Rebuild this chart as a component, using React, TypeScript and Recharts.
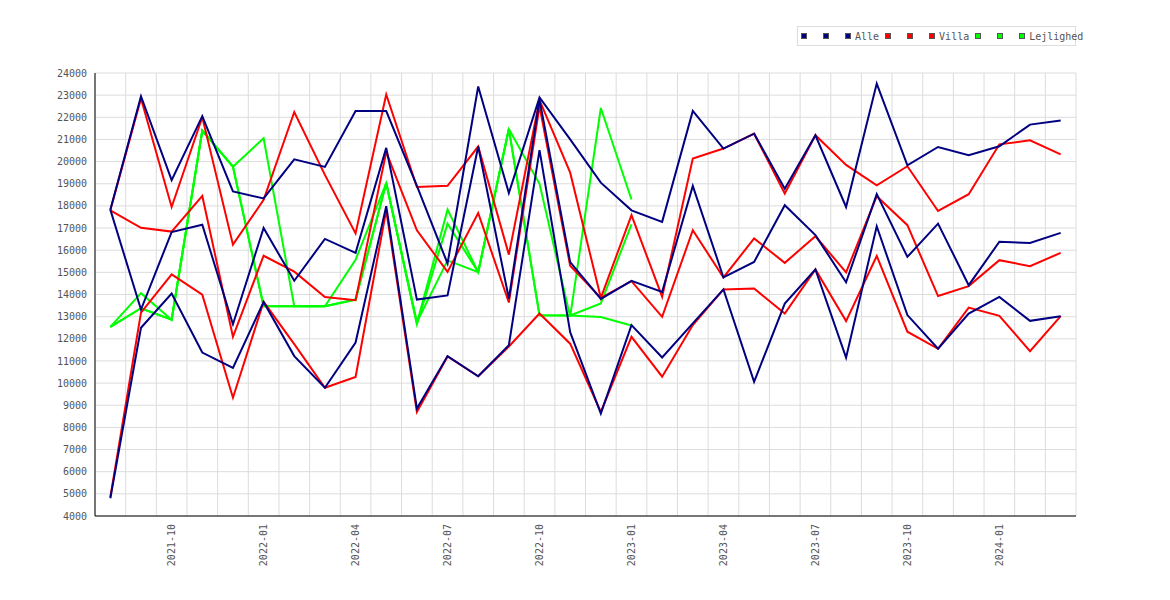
import React from 'react';
import { LineChart, Line, XAxis, YAxis, CartesianGrid } from 'recharts';

const MONTHS = [
  '2021-08', '2021-09', '2021-10', '2021-11', '2021-12',
  '2022-01', '2022-02', '2022-03', '2022-04', '2022-05', '2022-06',
  '2022-07', '2022-08', '2022-09', '2022-10', '2022-11', '2022-12',
  '2023-01', '2023-02', '2023-03', '2023-04', '2023-05', '2023-06',
  '2023-07', '2023-08', '2023-09', '2023-10', '2023-11', '2023-12',
  '2024-01', '2024-02', '2024-03',
];

const TICK_LABELS = [
  '2021-10', '2022-01', '2022-04', '2022-07', '2022-10',
  '2023-01', '2023-04', '2023-07', '2023-10', '2024-01',
];

const Y_TICKS = [
  4000, 5000, 6000, 7000, 8000, 9000, 10000, 11000, 12000, 13000, 14000,
  15000, 16000, 17000, 18000, 19000, 20000, 21000, 22000, 23000, 24000,
];

// Alle
const ALLE_1 = [17830, 22950, 19160, 22050, 18650, 18340, 20100, 19760, 22280, 22280, 18900, 15400, 23390, 18580, 22900, 21000, 19050, 17800, 17280, 22290, 20590, 21260, 18780, 21190, 17950, 23520, 19830, 20660, 20290, 20690, 21670, 21860];
const ALLE_2 = [17830, 13320, 16820, 17150, 12660, 17000, 14620, 16510, 15880, 20620, 13770, 13960, 20680, 13820, 22800, 15460, 13800, 14620, 14120, 18900, 14770, 15470, 18030, 16680, 14550, 18530, 15700, 17200, 14420, 16380, 16330, 16780];
const ALLE_3 = [4800, 12500, 14040, 11380, 10690, 13660, 11220, 9790, 11830, 17990, 8850, 11220, 10310, 11710, 20520, 12300, 8620, 12620, 11160, 12700, 14230, 10060, 13590, 15130, 11150, 17080, 13070, 11550, 13140, 13890, 12810, 13020];

// Villa
const VILLA_1 = [17800, 22850, 17950, 22000, 16250, 18270, 22240, 19400, 16760, 23030, 18850, 18910, 20680, 15800, 22780, 19500, 13850, 17580, 13900, 20140, 20590, 21260, 18560, 21190, 19850, 18930, 19790, 17770, 18530, 20780, 20960, 20330];
const VILLA_2 = [17800, 17010, 16840, 18450, 12090, 15750, 15030, 13890, 13740, 20430, 16900, 15020, 17680, 13640, 22500, 15300, 13850, 14600, 12990, 16900, 14770, 16530, 15430, 16630, 15000, 18440, 17130, 13930, 14380, 15550, 15280, 15880];
const VILLA_3 = [4850, 13180, 14910, 13990, 9340, 13670, 11760, 9790, 10280, 17800, 8700, 11200, 10310, 11650, 13140, 11780, 8700, 12090, 10290, 12620, 14230, 14270, 13140, 15130, 12800, 15740, 12320, 11550, 13410, 13040, 11440, 13020];

// Lejlighed (stops at 2023-01)
const LEJL_1 = [12540, 14060, 12860, 21400, 19770, 21050, 13470, 13470, 15570, 19030, 12700, 17830, 15010, 21470, 19000, 13000, 22420, 18290];
const LEJL_2 = [12540, 13380, 12860, 21400, 19770, 13470, 13470, 13470, 13770, 19030, 12650, 17200, 15010, 21470, 13060, 13050, 12980, 12600];
const LEJL_3 = [12540, 13380, 12860, 21400, 19770, 13470, 13470, 13470, 13770, 19030, 12750, 15540, 15010, 21470, 13060, 13050, 13600, 17170];

const NAVY = '#000080';
const RED = '#ff0000';
const GREEN = '#00ff00';
const FONT = '"DejaVu Sans Mono", monospace';
const TEXT = '#555555';

const data = MONTHS.map((month, i) => ({
  month,
  a1: ALLE_1[i], a2: ALLE_2[i], a3: ALLE_3[i],
  v1: VILLA_1[i], v2: VILLA_2[i], v3: VILLA_3[i],
  l1: LEJL_1[i], l2: LEJL_2[i], l3: LEJL_3[i],
}));

// legend order
const SERIES = [
  { key: 'a1', color: NAVY, name: '' },
  { key: 'a2', color: NAVY, name: '' },
  { key: 'a3', color: NAVY, name: 'Alle' },
  { key: 'v1', color: RED, name: '' },
  { key: 'v2', color: RED, name: '' },
  { key: 'v3', color: RED, name: 'Villa' },
  { key: 'l1', color: GREEN, name: '' },
  { key: 'l2', color: GREEN, name: '' },
  { key: 'l3', color: GREEN, name: 'Lejlighed' },
];

// green first, navy on top
const DRAW_ORDER = [...SERIES].reverse();

const XTick = (props: any) => {
  const { x, y, payload } = props;
  if (!TICK_LABELS.includes(payload.value)) return <g />;
  return (
    <text
      x={x}
      y={y}
      transform={`rotate(-90, ${x}, ${y})`}
      textAnchor="end"
      dy="0.35em"
      fontFamily={FONT}
      fontSize={10}
      fill={TEXT}
    >
      {payload.value}
    </text>
  );
};

const LegendBox = () => (
  <div
    style={{
      position: 'absolute', left: 797, top: 26, width: 279, height: 20,
      border: '1px solid #dddddd', boxSizing: 'border-box', background: '#fff',
      display: 'flex', alignItems: 'center', paddingLeft: 3, overflow: 'visible',
      fontFamily: FONT, fontSize: 10, color: TEXT, whiteSpace: 'nowrap',
    }}
  >
    {SERIES.map((s) => (
      <div
        key={s.key}
        style={{
          display: 'flex', alignItems: 'center', flexShrink: 0,
          width: s.name ? undefined : 22, marginRight: s.name ? 6 : 0,
        }}
      >
        <span style={{ display: 'inline-block', flexShrink: 0, width: 6, height: 6, boxSizing: 'border-box', border: '1px solid #555', background: s.color }} />
        {s.name && <span style={{ marginLeft: 4 }}>{s.name}</span>}
      </div>
    ))}
  </div>
);

export default function App() {
  return (
    <div style={{ position: 'absolute', left: 0, top: 0, width: 1170, height: 600, background: '#fff' }}>
      <LineChart width={1170} height={600} data={data} margin={{ top: 73, right: 94, left: 0, bottom: 24 }}>
        <CartesianGrid
          stroke="#dcdcdc"
          verticalCoordinatesGenerator={({ offset }: any) =>
            MONTHS.map((_, k) => offset.left + (k * offset.width) / MONTHS.length).concat(offset.left + offset.width)
          }
        />
        <XAxis
          dataKey="month"
          scale="band"
          interval={0}
          tickLine={false}
          axisLine={{ stroke: '#000' }}
          height={60}
          tick={<XTick />}
        />
        <YAxis
          type="number"
          domain={[4000, 24000]}
          ticks={Y_TICKS}
          interval={0}
          width={95}
          tickLine={false}
          axisLine={{ stroke: '#000' }}
          tick={{ fontFamily: FONT, fontSize: 10, fill: TEXT }}
        />
        {DRAW_ORDER.map((s) => (
          <Line
            key={s.key}
            dataKey={s.key}
            type="linear"
            stroke={s.color}
            strokeWidth={2}
            dot={false}
            activeDot={false}
            isAnimationActive={false}
          />
        ))}
      </LineChart>
      <LegendBox />
    </div>
  );
}
